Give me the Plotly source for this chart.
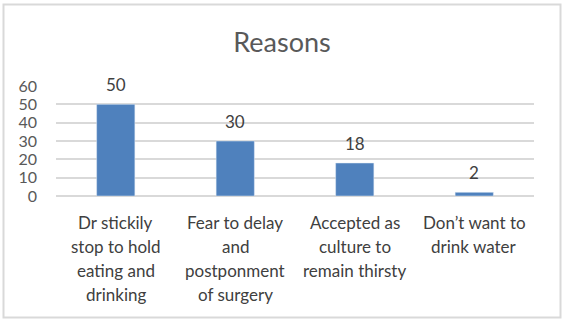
import plotly.graph_objects as go

categories = ["Dr stickily<br>stop to hold<br>eating and<br>drinking",
              "Fear to delay<br>and<br>postponment<br>of surgery",
              "Accepted as<br>culture to<br>remain thirsty",
              "Don’t want to<br>drink water"]
values = [50, 30, 18, 2]
y_ticks = [0, 10, 20, 30, 40, 50, 60]

W, H = 565, 321
L, R, T, B = 56, 31, 86, 125
pw, ph = W - L - R, H - T - B
FONT = "Lato, Carlito, 'Liberation Sans', sans-serif"

fig = go.Figure()
fig.add_trace(go.Bar(x=list(range(len(categories))), y=values, marker_color="#4f81bd",
                     width=0.32, hoverinfo="skip"))

annotations = []
for i, v in enumerate(values):
    annotations.append(dict(x=i, y=v, xref="x", yref="y", text=str(v), showarrow=False,
                            yanchor="bottom", yshift=7,
                            font=dict(family=FONT, size=17, color="#404040")))
for i, c in enumerate(categories):
    for j, line in enumerate(c.split("<br>")):
        annotations.append(dict(x=i, y=0, xref="x", yref="paper", text=line, showarrow=False,
                                yanchor="middle", yshift=-(26 + 24 * j),
                                font=dict(family=FONT, size=17, color="#404040")))

fig.update_layout(
    width=W, height=H,
    margin=dict(l=L, r=R, t=T, b=B),
    paper_bgcolor="white", plot_bgcolor="white",
    showlegend=False,
    title=dict(text="Reasons", x=282 / W, xanchor="center", y=1 - 43 / H, yanchor="middle",
               font=dict(family=FONT, size=27, color="#595959")),
    xaxis=dict(range=[-0.5, len(categories) - 0.5], showticklabels=False, showgrid=False,
               zeroline=False, fixedrange=True),
    yaxis=dict(range=[0, 60], tickvals=y_ticks, showgrid=True, gridcolor="#d9d9d9", gridwidth=1.5,
               zeroline=True, zerolinecolor="#d9d9d9", zerolinewidth=1.5,
               tickfont=dict(family=FONT, size=16, color="#595959"), ticks="", ticklen=0,
               ticklabelstandoff=18, fixedrange=True),
    annotations=annotations,
    shapes=[dict(type="rect", xref="paper", yref="paper",
                 x0=(3.5 - L) / pw, x1=(560.5 - L) / pw,
                 y0=-(317.5 - (H - B)) / ph, y1=1 + (T - 4.5) / ph,
                 line=dict(color="#d9d9d9", width=2), fillcolor="rgba(0,0,0,0)")],
)
fig.write_html("out.html", config={"displayModeBar": False},
               post_script="document.body.style.margin='0';")
